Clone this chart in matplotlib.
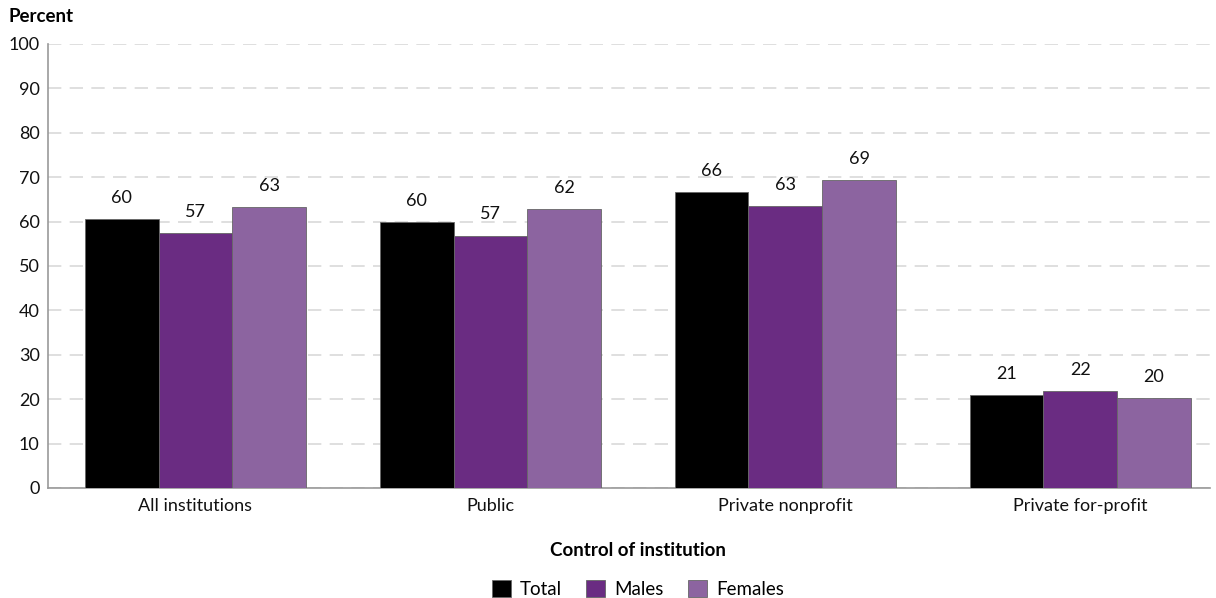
import matplotlib
matplotlib.use("Agg")
import matplotlib.pyplot as plt
import numpy as np

categories = ["All institutions", "Public", "Private nonprofit", "Private for-profit"]
series_names = ["Total", "Males", "Females"]
total = [60.6, 59.9, 66.7, 20.9]
males = [57.4, 56.8, 63.5, 21.8]
females = [63.3, 62.8, 69.4, 20.3]
total_labels = ["60", "60", "66", "21"]
males_labels = ["57", "57", "63", "22"]
females_labels = ["63", "62", "69", "20"]

colors = ["#000000", "#6a2c82", "#8c64a0"]

plt.rcParams['font.family'] = ['Lato', 'DejaVu Sans']

fig = plt.figure(figsize=(12.16, 5.98), dpi=100)
ax = fig.add_axes([48/1216, 1 - 488/598, (1210-48)/1216, 444/598])

x = np.arange(len(categories))
w = 0.25
series = [total, males, females]
labels = [total_labels, males_labels, females_labels]

for i, (vals, labs) in enumerate(zip(series, labels)):
    pos = x + (i - 1) * w
    bars = ax.bar(pos, vals, width=w, color=colors[i], edgecolor="#666666",
                  linewidth=0.6, label=series_names[i], zorder=3)
    for b, lab in zip(bars, labs):
        ax.text(b.get_x() + b.get_width() / 2, b.get_height() + 3, lab,
                ha="center", va="bottom", fontsize=13, color="#111111")

ax.set_ylim(0, 100)
ax.set_xlim(-0.5, 3.44)
ax.set_yticks(range(0, 101, 10))
ax.set_xticks(x)
ax.set_xticklabels(categories, fontsize=13)
ax.tick_params(axis="both", length=0, labelsize=13, colors="#111111")
ax.tick_params(axis="x", pad=7)
ax.tick_params(axis="y", pad=6)

ax.yaxis.grid(True, color="#d9d9d9", linestyle=(0, (8, 5)), linewidth=1.2, zorder=0)
ax.set_axisbelow(True)
for s in ["top", "right"]:
    ax.spines[s].set_visible(False)
ax.spines["left"].set_color("#999999")
ax.spines["bottom"].set_color("#999999")
ax.spines["left"].set_linewidth(1.2)
ax.spines["bottom"].set_linewidth(1.2)

fig.text(8/1216, 1 - 16/598, "Percent", fontsize=13.5, fontweight="bold",
         ha="left", va="center")
fig.text(638/1216, 1 - 551/598, "Control of institution", fontsize=13.5,
         fontweight="bold", ha="center", va="center")

fig.legend(loc="center", bbox_to_anchor=(638/1216, 1 - 589/598), ncol=3,
           frameon=False, fontsize=13.5, handlelength=1.0, handleheight=1.0,
           columnspacing=1.3, handletextpad=0.5)

fig.savefig("out.png", dpi=100)
